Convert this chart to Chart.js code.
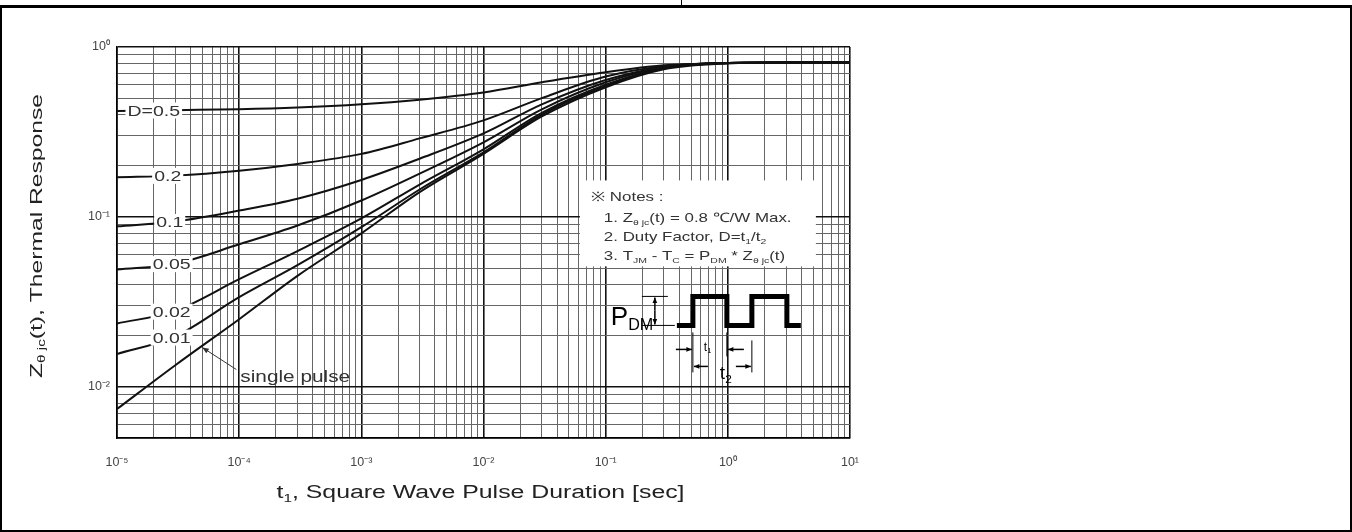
<!DOCTYPE html>
<html>
<head>
<meta charset="utf-8">
<title>Thermal Response</title>
<script src="https://cdn.jsdelivr.net/npm/chart.js@4.4.0/dist/chart.umd.min.js"></script>
<style>
html, body { margin: 0; padding: 0; background: #fff; }
#wrap { position: relative; width: 1352px; height: 532px; overflow: hidden; }
#frame { position: absolute; left: 0; top: 7px; width: 1352px; height: 525px; box-sizing: border-box;
         border-left: 2px solid #000; border-right: 2px solid #000; border-bottom: 2px solid #000; }
#topline { position: absolute; left: 0; top: 5px; width: 1352px; height: 3px; background: #000; }
#divider { position: absolute; left: 681px; top: 0; width: 1px; height: 6px; background: #000; }
canvas { position: absolute; left: 0; top: 0; }
</style>
</head>
<body>
<div id="wrap">
  <canvas id="graph" width="1352" height="532"></canvas>
  <div id="frame"></div>
  <div id="topline"></div>
  <div id="divider"></div>
</div>
<script>
'use strict'

// **** DATA ****
const pulseTimes = [1e-5, 3e-5, 1e-4, 3e-4, 1e-3, 3e-3, 1e-2, 3e-2, 1e-1, 3e-1, 1, 3, 10];

const duty050 = [0.42, 0.425, 0.43, 0.44, 0.46, 0.49, 0.54, 0.62, 0.71, 0.78, 0.805, 0.81, 0.81];
const duty020 = [0.171, 0.175, 0.187, 0.205, 0.235, 0.29, 0.37, 0.50, 0.67, 0.77, 0.805, 0.81, 0.81];
const duty010 = [0.088, 0.094, 0.109, 0.128, 0.165, 0.22, 0.31, 0.46, 0.64, 0.76, 0.805, 0.81, 0.81];
const duty005 = [0.049, 0.053, 0.069, 0.089, 0.125, 0.18, 0.275, 0.43, 0.62, 0.76, 0.805, 0.81, 0.81];
const duty002 = [0.0236, 0.028, 0.043, 0.063, 0.098, 0.155, 0.25, 0.41, 0.60, 0.75, 0.805, 0.81, 0.81];
const duty001 = [0.0156, 0.0198, 0.0337, 0.052, 0.087, 0.145, 0.24, 0.40, 0.59, 0.75, 0.805, 0.81, 0.81];
const singlePulse = [0.0074, 0.0134, 0.025, 0.045, 0.080, 0.14, 0.235, 0.39, 0.58, 0.74, 0.80, 0.81, 0.81];

const curveNames = ['D=0.5', '0.2', '0.1', '0.05', '0.02', '0.01', 'single pulse'];
const curveValues = [duty050, duty020, duty010, duty005, duty002, duty001, singlePulse];

const xTickLabels = ['10⁻⁵', '10⁻⁴', '10⁻³', '10⁻²', '10⁻¹', '10⁰', '10¹'];
const yTickLabels = ['10⁻²', '10⁻¹', '10⁰'];

// **** HELPERS ****

function isDecade(v) {
    let l = Math.log10(v);
    return Math.abs(l - Math.round(l)) < 1e-9;
}

function logTicks(minExp, maxExp, minVal, maxVal) {
    let out = [];
    for (let e = minExp; e <= maxExp; e++) {
        for (let m = 1; m <= 9; m++) {
            let v = m * Math.pow(10, e);
            if (v >= minVal * 0.999 && v <= maxVal * 1.001) out.push({ value: v });
        }
    }
    return out;
}

// draws text pieces (some as subscripts), stretched sideways by sx
function richText(ctx, pieces, x, y, size, align, sx) {
    let family = '"Liberation Sans", Arial, sans-serif';
    sx = sx || 1;
    let total = 0;
    for (let p of pieces) {
        ctx.font = (p.sub ? size * 0.62 : size) + 'px ' + family;
        total += ctx.measureText(p.t).width;
    }
    let start = align === 'center' ? x - total * sx / 2 : x;
    ctx.save();
    ctx.translate(start, y);
    ctx.scale(sx, 1);
    ctx.textAlign = 'left';
    ctx.textBaseline = 'middle';
    let cx = 0;
    for (let p of pieces) {
        ctx.font = (p.sub ? size * 0.62 : size) + 'px ' + family;
        ctx.fillText(p.t, cx, p.sub ? size * 0.32 : 0);
        cx += ctx.measureText(p.t).width;
    }
    ctx.restore();
    return total * sx;
}

function arrow(ctx, x1, y1, x2, y2, head) {
    ctx.beginPath();
    ctx.moveTo(x1, y1);
    ctx.lineTo(x2, y2);
    ctx.stroke();
    let a = Math.atan2(y2 - y1, x2 - x1);
    ctx.beginPath();
    ctx.moveTo(x2, y2);
    ctx.lineTo(x2 - head * Math.cos(a - 0.4), y2 - head * Math.sin(a - 0.4));
    ctx.lineTo(x2 - head * Math.cos(a + 0.4), y2 - head * Math.sin(a + 0.4));
    ctx.closePath();
    ctx.fill();
}

// pixel y of a drawn curve at pixel x
function curveY(chart, di, px) {
    let pts = chart.getDatasetMeta(di).data;
    for (let i = 1; i < pts.length; i++) {
        if (px <= pts[i].x) {
            let f = (px - pts[i - 1].x) / (pts[i].x - pts[i - 1].x);
            return pts[i - 1].y + f * (pts[i].y - pts[i - 1].y);
        }
    }
    return pts[pts.length - 1].y;
}

// **** ANNOTATIONS ****

const labelTimes = [2.0e-5, 2.6e-5, 2.7e-5, 2.8e-5, 2.8e-5, 2.8e-5];
const TEXT_SX = 1.3;

const annotations = {
    id: 'annotations',
    afterDraw(chart) {
        const ctx = chart.ctx;
        const xs = chart.scales.x;
        const ys = chart.scales.y;
        ctx.save();
        ctx.fillStyle = '#222';

        // axis titles
        ctx.save();
        ctx.translate(37, 236);
        ctx.rotate(-Math.PI / 2);
        richText(ctx, [{ t: 'Z' }, { t: 'θ jc', sub: true }, { t: '(t), Thermal Response' }], 0, 0, 17, 'center', 1.45);
        ctx.restore();
        richText(ctx, [{ t: 't' }, { t: '1', sub: true }, { t: ', Square Wave Pulse Duration [sec]' }],
            (xs.left + xs.right) / 2 - 3, 493, 18, 'center', 1.38);

        // curve labels sitting on the lines
        ctx.font = '15px "Liberation Sans", Arial, sans-serif';
        for (let i = 0; i < labelTimes.length; i++) {
            let px = xs.getPixelForValue(labelTimes[i]);
            let py = curveY(chart, i, px);
            let w = ctx.measureText(curveNames[i]).width * TEXT_SX;
            ctx.fillStyle = '#fff';
            ctx.fillRect(px - w / 2 - 2, py - 8, w + 4, 16);
            ctx.fillStyle = '#333';
            richText(ctx, [{ t: curveNames[i] }], px, py + 1, 15, 'center', TEXT_SX);
            ctx.font = '15px "Liberation Sans", Arial, sans-serif';
        }

        // single pulse pointer
        let tipX = xs.getPixelForValue(4.9e-5);
        let tipY = curveY(chart, 6, tipX);
        ctx.strokeStyle = '#333';
        ctx.fillStyle = '#333';
        ctx.lineWidth = 1;
        arrow(ctx, tipX + 35, tipY + 23, tipX + 1, tipY + 1, 7);
        richText(ctx, [{ t: 'single pulse' }], tipX + 39, tipY + 31, 16, 'left', TEXT_SX);

        // notes box
        let bx = xs.getPixelForValue(0.0615);
        let by = ys.getPixelForValue(0.164);
        ctx.fillStyle = '#fff';
        ctx.fillRect(bx, by, 236, 86);
        ctx.fillStyle = '#333';
        richText(ctx, [{ t: '※ Notes :' }], bx + 11, by + 17, 13, 'left', TEXT_SX);
        richText(ctx, [{ t: '1. Z' }, { t: 'θ jc', sub: true }, { t: '(t) = 0.8 ℃/W Max.' }], bx + 24, by + 38, 13, 'left', TEXT_SX);
        richText(ctx, [{ t: '2. Duty Factor, D=t' }, { t: '1', sub: true }, { t: '/t' }, { t: '2', sub: true }], bx + 24, by + 57, 13, 'left', TEXT_SX);
        richText(ctx, [{ t: '3. T' }, { t: 'JM', sub: true }, { t: ' - T' }, { t: 'C', sub: true }, { t: ' = P' },
            { t: 'DM', sub: true }, { t: ' * Z' }, { t: 'θ jc', sub: true }, { t: '(t)' }], bx + 24, by + 76, 13, 'left', TEXT_SX);

        // square wave sketch
        ctx.strokeStyle = '#000';
        ctx.fillStyle = '#000';
        ctx.lineWidth = 5;
        ctx.lineJoin = 'miter';
        ctx.beginPath();
        ctx.moveTo(bx + 97, by + 145);
        ctx.lineTo(bx + 113, by + 145);
        ctx.lineTo(bx + 113, by + 116);
        ctx.lineTo(bx + 147, by + 116);
        ctx.lineTo(bx + 147, by + 145);
        ctx.lineTo(bx + 172, by + 145);
        ctx.lineTo(bx + 172, by + 116);
        ctx.lineTo(bx + 207, by + 116);
        ctx.lineTo(bx + 207, by + 145);
        ctx.lineTo(bx + 221, by + 145);
        ctx.stroke();

        richText(ctx, [{ t: 'P' }, { t: 'DM', sub: true }], bx + 31, by + 137, 26);

        ctx.lineWidth = 1;
        ctx.beginPath();
        ctx.moveTo(bx + 62, by + 116); ctx.lineTo(bx + 88, by + 116);
        ctx.moveTo(bx + 62, by + 145); ctx.lineTo(bx + 95, by + 145);
        ctx.stroke();
        ctx.lineWidth = 1.5;
        arrow(ctx, bx + 75, by + 130, bx + 75, by + 117, 6);
        arrow(ctx, bx + 75, by + 130, bx + 75, by + 144, 6);

        // t1 / t2 dimensions
        ctx.lineWidth = 1;
        ctx.beginPath();
        ctx.moveTo(bx + 113, by + 152); ctx.lineTo(bx + 113, by + 192);
        ctx.moveTo(bx + 147, by + 152); ctx.lineTo(bx + 147, by + 176);
        ctx.moveTo(bx + 172, by + 160); ctx.lineTo(bx + 172, by + 192);
        ctx.stroke();
        ctx.lineWidth = 1.5;
        arrow(ctx, bx + 96, by + 169, bx + 112, by + 169, 6);
        arrow(ctx, bx + 164, by + 169, bx + 148, by + 169, 6);
        arrow(ctx, bx + 128, by + 186, bx + 114, by + 186, 6);
        arrow(ctx, bx + 156, by + 186, bx + 171, by + 186, 6);
        richText(ctx, [{ t: 't' }, { t: '1', sub: true }], bx + 124, by + 167, 12);
        richText(ctx, [{ t: 't' }, { t: '2', sub: true }], bx + 140, by + 193, 19);

        ctx.restore();
    }
};

// **** CHART ****

let datasets = [];
for (let i = 0; i < curveNames.length; i++) {
    datasets.push({
        label: curveNames[i],
        data: pulseTimes.map((t, j) => ({ x: t, y: curveValues[i][j] })),
        borderColor: '#111',
        borderWidth: 2,
        pointRadius: 0,
        fill: false,
        cubicInterpolationMode: 'monotone'
    });
}

function gridColor(ctx) {
    return ctx.tick && isDecade(ctx.tick.value) ? '#111' : '#666';
}
function gridWidth(ctx) {
    return ctx.tick && isDecade(ctx.tick.value) ? 1.6 : 1;
}

const config = {
    type: 'line',
    data: { datasets: datasets },
    options: {
        responsive: false,
        animation: false,
        devicePixelRatio: 1,
        layout: { padding: { left: 0, top: 47, right: 502, bottom: 0 } },
        plugins: { legend: { display: false }, tooltip: { enabled: false } },
        scales: {
            x: {
                type: 'logarithmic',
                min: 1e-5,
                max: 10,
                afterBuildTicks(scale) { scale.ticks = logTicks(-5, 1, 1e-5, 10); },
                afterFit(scale) { scale.height = 94; },
                ticks: {
                    autoSkip: false,
                    maxRotation: 0,
                    minRotation: 0,
                    padding: 17,
                    color: '#444',
                    font: { size: 12.5, family: '"Liberation Sans", Arial, sans-serif' },
                    callback: (v) => isDecade(v) ? xTickLabels[Math.round(Math.log10(v)) + 5] : ''
                },
                grid: { color: gridColor, lineWidth: gridWidth, drawTicks: false },
                border: { color: '#000', width: 1.6 }
            },
            y: {
                type: 'logarithmic',
                min: 0.005,
                max: 1,
                afterBuildTicks(scale) { scale.ticks = logTicks(-3, 0, 0.005, 1); },
                afterFit(scale) { scale.width = 117; },
                ticks: {
                    autoSkip: false,
                    padding: 7,
                    color: '#444',
                    font: { size: 12.5, family: '"Liberation Sans", Arial, sans-serif' },
                    callback: (v) => isDecade(v) ? yTickLabels[Math.round(Math.log10(v)) + 2] : ''
                },
                grid: { color: gridColor, lineWidth: gridWidth, drawTicks: false },
                border: { color: '#000', width: 1.6 }
            }
        }
    },
    plugins: [annotations]
};

const ctx = document.getElementById('graph');
const myGraph = new Chart(ctx, config);
</script>
</body>
</html>
